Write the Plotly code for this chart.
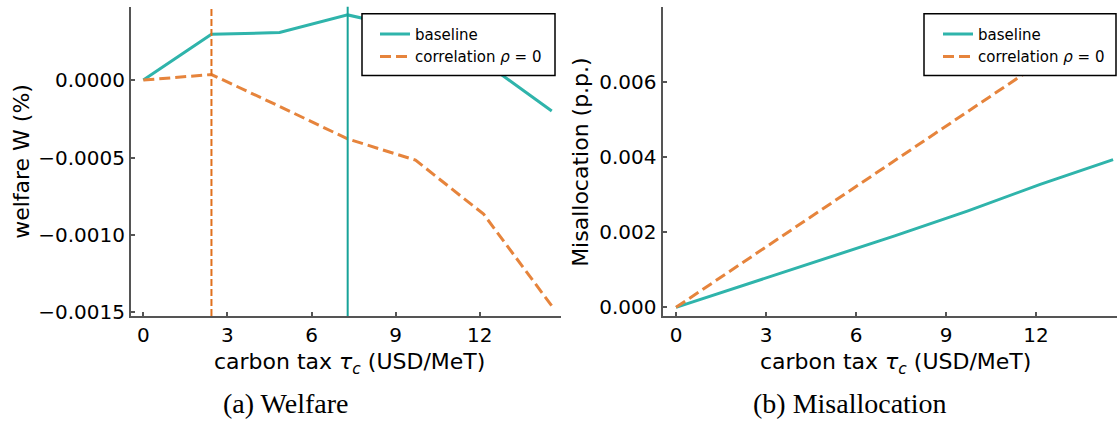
import plotly.graph_objects as go

# ---- data ----
tax = [0, 2.43, 4.86, 7.29, 9.71, 12.14, 14.57]
welfare_baseline = [0, 0.000296, 0.000307, 0.000421, 0.000323, 0.000118, -0.0002]
welfare_rho0 = [0, 0.000036, -0.00017, -0.00038, -0.000517, -0.000866, -0.001458]
misalloc_baseline = [0, 0.00063, 0.00125, 0.0019, 0.00256, 0.00327, 0.00393]
misalloc_rho0 = [0, 0.0013, 0.0026, 0.0039, 0.0052, 0.0065, 0.0078]
opt_tax_baseline = 7.29
opt_tax_rho0 = 2.43
x_ticks = [0, 3, 6, 9, 12]
welfare_ticks = [0.0, -0.0005, -0.0010, -0.0015]
misalloc_ticks = [0.000, 0.002, 0.004, 0.006]

TEAL = "#2fb4ab"
TEAL_V = "#17a399"
ORANGE = "#e6843c"
ORANGE_V = "#e0701d"
AX = "#555555"
W, H = 1117, 421

def px(v):
    return v / W

def py(v):
    return 1 - v / H

fig = go.Figure()

# left panel
fig.add_trace(go.Scatter(x=tax, y=welfare_baseline, mode="lines", name="baseline",
                         line=dict(color=TEAL, width=3), xaxis="x", yaxis="y", legend="legend"))
fig.add_trace(go.Scatter(x=tax, y=welfare_rho0, mode="lines", name="correlation <i>ρ</i> = 0",
                         line=dict(color=ORANGE, width=3, dash="11px,5px"), xaxis="x", yaxis="y", legend="legend"))
# right panel
fig.add_trace(go.Scatter(x=tax, y=misalloc_baseline, mode="lines", name="baseline",
                         line=dict(color=TEAL, width=3), xaxis="x2", yaxis="y2", legend="legend2"))
fig.add_trace(go.Scatter(x=tax, y=misalloc_rho0, mode="lines", name="correlation <i>ρ</i> = 0",
                         line=dict(color=ORANGE, width=3, dash="11px,5px"), xaxis="x2", yaxis="y2", legend="legend2"))

fig.add_shape(type="line", xref="x", yref="y domain", x0=opt_tax_rho0, x1=opt_tax_rho0, y0=0, y1=1,
              line=dict(color=ORANGE_V, width=2, dash="7px,3px"), layer="above")
fig.add_shape(type="line", xref="x", yref="y domain", x0=opt_tax_baseline, x1=opt_tax_baseline, y0=0, y1=1,
              line=dict(color=TEAL_V, width=2), layer="above")

# legend frames (matplotlib-style boxes)
for (l, r) in [(362, 555), (924, 1116)]:
    fig.add_shape(type="rect", xref="paper", yref="paper", x0=px(l), x1=px(r), y0=py(77), y1=py(14),
                  line=dict(color="black", width=1.5), fillcolor="white", layer="above")

tickfont = dict(family="DejaVu Sans", size=20, color="black")
common_axis = dict(showgrid=False, zeroline=False, showline=True, linecolor=AX, linewidth=2,
                   ticks="inside", ticklen=4, tickwidth=1.5, tickcolor=AX, tickfont=tickfont)

ydom = [py(322), py(7)]
legfont = dict(family="DejaVu Sans", size=15, color="black")

fig.update_layout(
    width=W, height=H,
    margin=dict(l=0, r=0, t=0, b=0),
    paper_bgcolor="white", plot_bgcolor="white",
    showlegend=True,
    xaxis=dict(domain=[px(131), px(561)], range=[-0.44, 14.9], tickvals=x_ticks, anchor="y", **common_axis),
    yaxis=dict(domain=ydom, range=[-0.001523, 0.000473], tickvals=welfare_ticks, tickformat=".4f",
               anchor="x", **common_axis),
    xaxis2=dict(domain=[px(662.5), 1.0], range=[-0.45, 14.7], tickvals=x_ticks, anchor="y2", **common_axis),
    yaxis2=dict(domain=ydom, range=[-0.000227, 0.00799], tickvals=misalloc_ticks, tickformat=".3f",
                anchor="x2", **common_axis),
    legend=dict(x=px(375), y=py(18), xanchor="left", yanchor="top", bgcolor="rgba(0,0,0,0)",
                borderwidth=0, font=legfont, tracegroupgap=0),
    legend2=dict(x=px(938), y=py(18), xanchor="left", yanchor="top", bgcolor="rgba(0,0,0,0)",
                 borderwidth=0, font=legfont, tracegroupgap=0),
)

title_font = dict(family="DejaVu Sans", size=22, color="black")
cap_font = dict(family="Liberation Serif", size=28, color="black")
xlabel = "carbon tax <i>τ</i><sub><i>c</i></sub> (USD/MeT)"
annotations = [
    dict(text=xlabel, x=px(349), y=py(371), xref="paper", yref="paper", showarrow=False,
         xanchor="center", yanchor="middle", font=title_font),
    dict(text=xlabel, x=px(895), y=py(371), xref="paper", yref="paper", showarrow=False,
         xanchor="center", yanchor="middle", font=title_font),
    dict(text="welfare W (%)", x=px(22), y=py(165), xref="paper", yref="paper", showarrow=False,
         xanchor="center", yanchor="middle", textangle=-90, font=title_font),
    dict(text="Misallocation (p.p.)", x=px(581), y=py(165), xref="paper", yref="paper", showarrow=False,
         xanchor="center", yanchor="middle", textangle=-90, font=title_font),
    dict(text="(a) Welfare", x=px(285), y=py(411), xref="paper", yref="paper", showarrow=False,
         xanchor="center", yanchor="middle", font=cap_font),
    dict(text="(b) Misallocation", x=px(850), y=py(411), xref="paper", yref="paper", showarrow=False,
         xanchor="center", yanchor="middle", font=cap_font),
]
fig.update_layout(annotations=annotations)

fig.write_html("out.html")
